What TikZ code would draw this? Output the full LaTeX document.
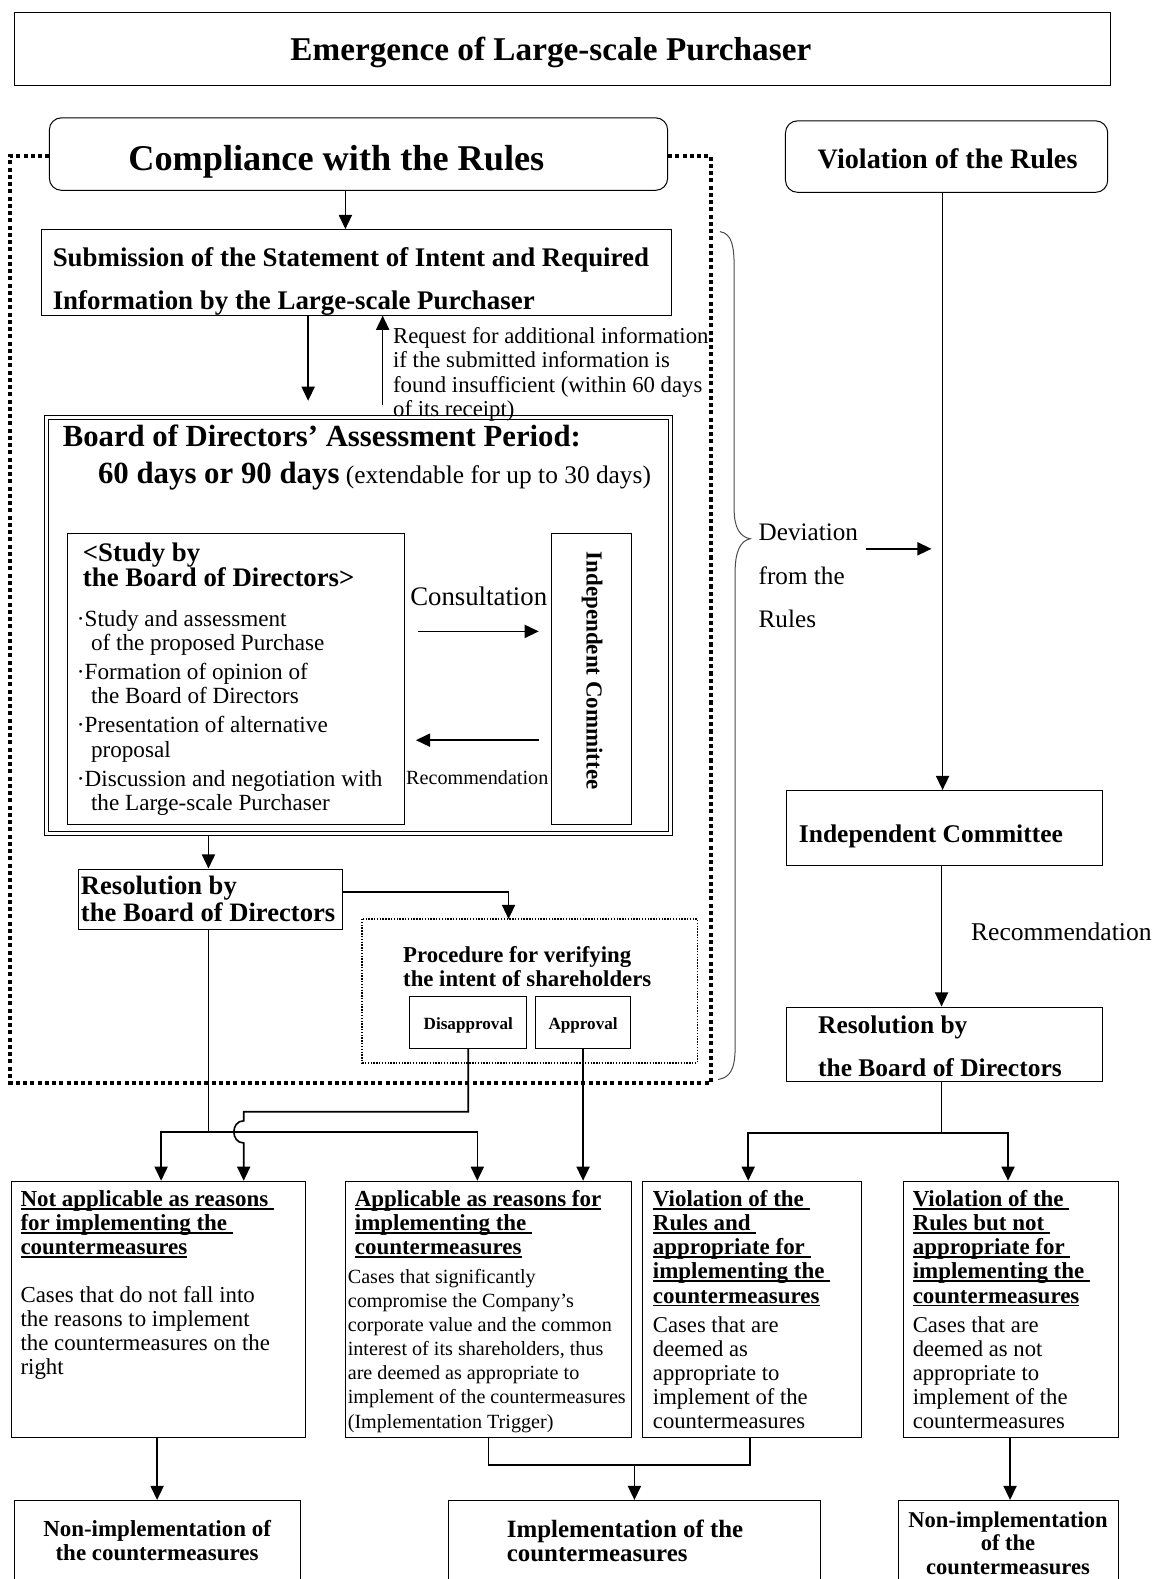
\documentclass[tikz,border=0pt]{standalone}
\usepackage{fontspec}
\setmainfont{Liberation Serif}
\usetikzlibrary{arrows.meta,fit}
\newsavebox\ulbox
\newcommand\ulx[1]{\sbox\ulbox{#1}\rlap{\rule[-1.7pt]{\wd\ulbox}{0.9pt}}\usebox\ulbox}
\newcommand\fsz[2]{\fontsize{#1pt}{#2pt}\selectfont}
\begin{document}
\begin{tikzpicture}[x=0.5pt,y=-0.5pt,
  box/.style={draw, line width=0.5pt, inner sep=0pt},
  rbox/.style={box, rounded corners=6pt},
  txt/.style={inner sep=0pt, align=left, anchor=north west},
  ctxt/.style={inner sep=0pt, align=center},
  one/.style={inner sep=0pt, anchor=base west},
  line/.style={line width=0.8pt},
  arr/.style={line, -{Triangle[length=7pt,width=6.5pt]}},
  bigdot/.style={line width=2pt, dash pattern=on 2pt off 1.6pt},
  smalldot/.style={line width=0.7pt, dash pattern=on 0.7pt off 0.7pt},
]
\useasboundingbox (0,0) rectangle (1147,1568);
\clip (0,0) rectangle (1147,1568);

% ---------- boxes ----------
\node[box, fit={(14,12) (1103,85)}] (title) {};
\draw[bigdot] (49,155) -- (10,155) -- (10,1075) -- (706,1075) -- (706,155) -- (663,155);
\node[rbox, fill=white, fit={(49,117) (663,189)}] (comp) {};
\node[rbox, fit={(780,120) (1100,191)}] (viol) {};
\node[box, fit={(41,228) (667,313)}] (sub) {};
\node[box, fit={(44,413) (668,830)}] (boardO) {};
\node[box, fit={(48,417) (664,826)}] (boardI) {};
\node[box, fit={(67,530) (402,819)}] (study) {};
\node[box, fit={(548,530) (627,819)}] (icv) {};
\node[box, fit={(78,863) (340,923)}] (resL) {};
\node[inner sep=0pt, fit={(360,913) (692,1055)}] (proc) {};
\draw[smalldot] (proc.north west) rectangle (proc.south east);
\node[box, fit={(407,990) (523,1041)}] (dis) {};
\node[box, fit={(532,990) (626,1041)}] (app) {};
\node[box, fit={(781,785) (1095,859)}] (icR) {};
\node[box, fit={(781,1000) (1095,1074)}] (resR) {};
\node[box, fit={(11,1173) (303,1427)}] (A) {};
\node[box, fit={(343,1173) (627,1427)}] (B) {};
\node[box, fit={(638,1173) (855,1427)}] (C) {};
\node[box, fit={(897,1173) (1111,1427)}] (D) {};
\node[box, fit={(14,1490) (298,1590)}] (E) {};
\node[box, fit={(445,1490) (815,1590)}] (F) {};
\node[box, fit={(892,1490) (1111,1590)}] (G) {};

% brace
\draw[line width=0.5pt, black!70] (715,230) .. controls (727,232) and (729,245) .. (729,265) -- (729,505)
  .. controls (729,525) and (735,533) .. (745,535)
  .. controls (735,537) and (730,548) .. (730,568) -- (730,1040)
  .. controls (730,1062) and (725,1070) .. (713,1072);

% ---------- texts ----------
\node[one, anchor=base, font=\bfseries\fsz{16.5}{20}] (titleT) at (547,60) {Emergence of Large-scale Purchaser};
\node[one, anchor=base, font=\bfseries\fsz{18}{22}] (compT) at (334,169) {Compliance with the Rules};
\node[one, anchor=base, font=\bfseries\fsz{14}{17}] (violT) at (941,167) {Violation of the Rules};
\node[txt, font=\bfseries\fsz{13.35}{21.5}] (subT) at (52,245) {Submission of the Statement of Intent and Required\\Information by the Large-scale Purchaser};
\node[txt, font=\fsz{11.3}{12}] (reqT) at (390,325) {Request for additional information\\if the submitted information is\\found insufficient (within 60 days\\of its receipt)};
\node[one, font=\bfseries\fsz{15.25}{18}] (boardT1) at (62,443) {Board of Directors’ Assessment Period:};
\node[one, font=\fsz{12.6}{15}] (boardT2) at (97,480) {{\bfseries\fsz{15.3}{18}60 days or 90 days} (extendable for up to 30 days)};
\node[txt, font=\bfseries\fsz{13.3}{12.5}] (studyH) at (82,539) {<Study by\\the Board of Directors>};
\node[txt, font=\fsz{11.5}{12}] (studyI) at (76,605.5) {·Study and assessment\\\hspace*{7pt}of the proposed Purchase\\[2.5pt]·Formation of opinion of\\\hspace*{7pt}the Board of Directors\\[2.5pt]·Presentation of alternative\\\hspace*{7pt}proposal\\[2.5pt]·Discussion and negotiation with\\\hspace*{7pt}the Large-scale Purchaser};
\node[one, font=\fsz{13.3}{15}] (consT) at (407,601) {Consultation};
\node[one, font=\fsz{10}{12}] (recT) at (403,779) {Recommendation};
\node[inner sep=0pt, rotate=-90, font=\bfseries\fsz{11.4}{13}] (icvT) at (588,666) {Independent Committee};
\node[txt, font=\bfseries\fsz{13.2}{12}] (resLT) at (80,870) {Resolution by\\the Board of Directors};
\node[txt, font=\bfseries\fsz{11.3}{12}] (procT) at (400,939.6) {Procedure for verifying\\the intent of shareholders};
\node[one, anchor=base, font=\bfseries\fsz{8.5}{10}] (disT) at (465,1022) {Disapproval};
\node[one, anchor=base, font=\bfseries\fsz{8.5}{10}] (appT) at (579,1022) {Approval};
\node[txt, font=\fsz{12.5}{21.5}] (devT) at (753,520) {Deviation\\from the\\Rules};
\node[one, font=\bfseries\fsz{12.65}{15}] (icRT) at (793,837) {Independent Committee};
\node[one, font=\fsz{12.7}{15}] (recRT) at (964,934) {Recommendation};
\node[txt, font=\bfseries\fsz{12.65}{21}] (resRT) at (812,1008.6) {Resolution by\\the Board of Directors};

\node[txt, font=\bfseries\fsz{11.4}{12}] (AH) at (20,1181.5) {\ulx{Not applicable as reasons\ }\\\ulx{for implementing the\ }\\\ulx{countermeasures}};
\node[txt, font=\fsz{11.35}{12}] (AB) at (20,1276.6) {Cases that do not fall into\\the reasons to implement\\the countermeasures on the\\right};
\node[txt, font=\bfseries\fsz{11.4}{12}] (BH) at (352,1181.5) {\ulx{Applicable as reasons for}\\\ulx{implementing the\ }\\\ulx{countermeasures}};
\node[txt, font=\fsz{10}{12}] (BB) at (345,1259.6) {Cases that significantly\\compromise the Company’s\\corporate value and the common\\interest of its shareholders, thus\\are deemed as appropriate to\\implement of the countermeasures\\(Implementation Trigger)};
\node[txt, font=\bfseries\fsz{11.4}{12}] (CH) at (648,1181.5) {\ulx{Violation of the\ }\\\ulx{Rules and\ }\\\ulx{appropriate for\ }\\\ulx{implementing the\ }\\\ulx{countermeasures}};
\node[txt, font=\fsz{11.25}{12}] (CB) at (648,1306.7) {Cases that are\\deemed as\\appropriate to\\implement of the\\countermeasures};
\node[txt, font=\bfseries\fsz{11.4}{12}] (DH) at (906,1181.5) {\ulx{Violation of the\ }\\\ulx{Rules but not\ }\\\ulx{appropriate for\ }\\\ulx{implementing the\ }\\\ulx{countermeasures}};
\node[txt, font=\fsz{11.25}{12}] (DB) at (906,1306.7) {Cases that are\\deemed as not\\appropriate to\\implement of the\\countermeasures};
\node[ctxt, anchor=north, font=\bfseries\fsz{11.4}{12}] (ET) at (156,1509.6) {Non-implementation of\\the countermeasures};
\node[txt, font=\bfseries\fsz{12.35}{12}] (FT) at (503,1509) {Implementation of the\\countermeasures};
\node[ctxt, anchor=north, font=\bfseries\fsz{11.2}{11.75}] (GT) at (1001,1500.7) {Non-implementation\\of the\\countermeasures};

% ---------- connectors ----------
\draw[arr] (comp.south -| 343,0) -- (sub.north -| 343,0);
\coordinate (subTip) at (306,398);
\draw[arr] (sub.south -| 306,0) -- (subTip);
\coordinate (reqStart) at (380,402);
\draw[arr] (reqStart) -- (sub.south -| 380,0);
\draw[arr] (boardO.south -| 207,0) -- (resL.north -| 207,0);
\coordinate (cA1) at (415,627); \coordinate (cA2) at (535,627);
\draw[arr] (cA1) -- (cA2);
\coordinate (rA1) at (535,735); \coordinate (rA2) at (413,735);
\draw[arr] (rA1) -- (rA2);
\draw[arr] ([yshift=3.5pt]resL.east) -| (proc.north -| 505,0);

\coordinate (jL) at (207,1124);
\draw[line] (resL.south -| 207,0) -- (jL);
\draw[arr] (jL) -| (A.north -| 160,0);
\draw[arr] (jL) -| (B.north -| 474,0);
\draw[arr] (dis.south) |- (242,1104) -- (242,1113) .. controls (229,1113) and (229,1135) .. (242,1135) -- (A.north -| 242,0);
\draw[arr] (app.south) -- (app.south |- B.north);

\draw[arr] (viol.south -| 936,0) -- (icR.north -| 936,0);
\coordinate (devA) at (860,545); \coordinate (devB) at (925,545);
\draw[arr] (devA) -- (devB);
\draw[arr] (icR.south -| 935,0) -- (resR.north -| 935,0);
\coordinate (jR) at (935,1125);
\draw[line] (resR.south -| 935,0) -- (jR);
\draw[arr] (jR) -| (C.north -| 743,0);
\draw[arr] (jR) -| (D.north -| 1001,0);

\draw[arr] (A.south -| 156,0) -- (E.north -| 156,0);
\coordinate (jB) at (485,1455);
\coordinate (jC) at (745,1455);
\draw[line] (B.south -| 485,0) -- (jB) -- (jC) -- (C.south -| 745,0);
\coordinate (jF) at (630,1455);
\draw[arr] (jF) -- (F.north -| 630,0);
\draw[arr] (D.south -| 1003,0) -- (G.north -| 1003,0);
\end{tikzpicture}
\end{document}
